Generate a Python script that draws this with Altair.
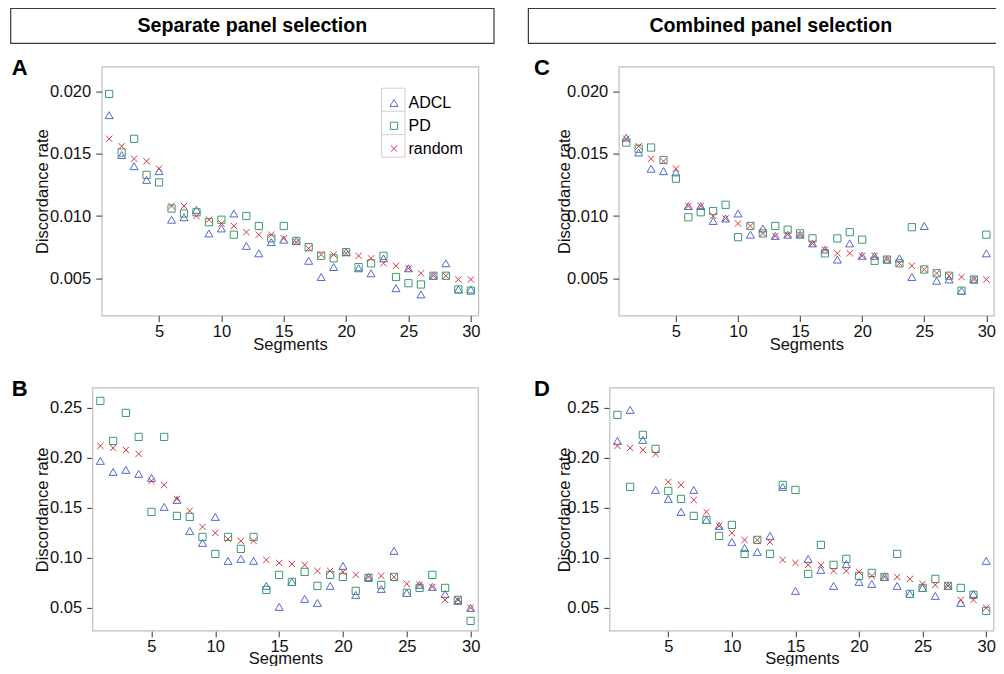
import altair as alt
import pandas as pd

SEGMENTS = list(range(1, 31))
METHODS = ["ADCL", "PD", "random"]
COLORS = ["#5169CF", "#3D9A6F", "#D5373D"]
SHAPES = ["triangle-up", "square", "M-1,-1L1,1M-1,1L1,-1"]
SIZES = [64, 40, 49]

X_TICKS = [5, 10, 15, 20, 25, 30]
Y_TICKS_SMALL = [0.005, 0.010, 0.015, 0.020]
Y_TICKS_LARGE = [0.05, 0.10, 0.15, 0.20, 0.25]

HEADERS = ["Separate panel selection", "Combined panel selection"]
LETTERS = ["A", "B", "C", "D"]

# Panel A (separate, small scale)
A_ADCL = [0.0181, 0.0149, 0.0140, 0.0129, 0.0136, 0.0097, 0.0099, 0.0105, 0.0086, 0.0090,
          0.0102, 0.0076, 0.0070, 0.0079, 0.0081, 0.0080, 0.0064, 0.0051, 0.0059, 0.0071,
          0.0058, 0.0054, 0.0066, 0.0042, 0.0058, 0.0037, 0.0052, 0.0062, 0.0041, 0.0041]
A_PD = [0.0198, 0.0151, 0.0162, 0.0133, 0.0127, 0.0106, 0.0102, 0.0103, 0.0095, 0.0097,
        0.0085, 0.0100, 0.0092, 0.0082, 0.0092, 0.0080, 0.0075, 0.0068, 0.0066, 0.0071,
        0.0059, 0.0062, 0.0068, 0.0051, 0.0046, 0.0045, 0.0052, 0.0052, 0.0041, 0.0040]
A_RANDOM = [0.0162, 0.0156, 0.0146, 0.0144, 0.0138, 0.0108, 0.0108, 0.0100, 0.0097, 0.0094,
            0.0092, 0.0087, 0.0085, 0.0085, 0.0082, 0.0079, 0.0074, 0.0069, 0.0069, 0.0070,
            0.0068, 0.0066, 0.0062, 0.0060, 0.0058, 0.0054, 0.0052, 0.0052, 0.0049, 0.0049]

# Panel B (separate, large scale)
B_ADCL = [0.197, 0.186, 0.188, 0.184, 0.180, 0.151, 0.158, 0.127, 0.115, 0.141,
          0.097, 0.099, 0.097, 0.072, 0.051, 0.076, 0.059, 0.055, 0.072, 0.092,
          0.063, 0.081, 0.069, 0.107, 0.065, 0.073, 0.071, 0.064, 0.057, 0.050]
B_PD = [0.257, 0.217, 0.245, 0.221, 0.146, 0.221, 0.142, 0.141, 0.121, 0.104,
        0.121, 0.109, 0.121, 0.068, 0.083, 0.076, 0.086, 0.072, 0.083, 0.081,
        0.067, 0.080, 0.073, 0.081, 0.065, 0.070, 0.083, 0.070, 0.058, 0.037]
B_RANDOM = [0.212, 0.210, 0.208, 0.204, 0.177, 0.173, 0.159, 0.147, 0.131, 0.125,
            0.119, 0.117, 0.117, 0.098, 0.095, 0.094, 0.093, 0.087, 0.087, 0.086,
            0.083, 0.081, 0.082, 0.081, 0.074, 0.073, 0.071, 0.058, 0.058, 0.050]

# Panel C (combined, small scale)
C_ADCL = [0.0163, 0.0151, 0.0138, 0.0136, 0.0135, 0.0108, 0.0108, 0.0096, 0.0098, 0.0102,
          0.0085, 0.0090, 0.0084, 0.0085, 0.0085, 0.0078, 0.0073, 0.0065, 0.0078, 0.0068,
          0.0068, 0.0065, 0.0066, 0.0051, 0.0092, 0.0048, 0.0049, 0.0040, 0.0049, 0.0070]
C_PD = [0.0159, 0.0154, 0.0155, 0.0145, 0.0130, 0.0099, 0.0103, 0.0104, 0.0109, 0.0083,
        0.0092, 0.0086, 0.0092, 0.0089, 0.0086, 0.0082, 0.0070, 0.0082, 0.0087, 0.0081,
        0.0064, 0.0065, 0.0062, 0.0091, 0.0057, 0.0054, 0.0052, 0.0040, 0.0049, 0.0085]
C_RANDOM = [0.0162, 0.0156, 0.0146, 0.0144, 0.0138, 0.0108, 0.0108, 0.0100, 0.0098, 0.0094,
            0.0092, 0.0086, 0.0084, 0.0085, 0.0085, 0.0078, 0.0073, 0.0070, 0.0070, 0.0068,
            0.0068, 0.0065, 0.0062, 0.0060, 0.0057, 0.0054, 0.0052, 0.0051, 0.0049, 0.0049]

# Panel D (combined, large scale)
D_ADCL = [0.217, 0.248, 0.218, 0.168, 0.159, 0.146, 0.168, 0.138, 0.132, 0.116,
          0.110, 0.106, 0.122, 0.171, 0.067, 0.099, 0.088, 0.072, 0.094, 0.076,
          0.074, 0.081, 0.072, 0.064, 0.070, 0.062, 0.072, 0.055, 0.064, 0.097]
D_PD = [0.243, 0.171, 0.223, 0.209, 0.167, 0.159, 0.142, 0.138, 0.122, 0.133,
        0.104, 0.118, 0.104, 0.173, 0.168, 0.084, 0.113, 0.093, 0.099, 0.082,
        0.085, 0.081, 0.104, 0.064, 0.070, 0.079, 0.072, 0.070, 0.063, 0.047]
D_RANDOM = [0.212, 0.210, 0.208, 0.204, 0.176, 0.173, 0.158, 0.146, 0.132, 0.125,
            0.118, 0.118, 0.116, 0.098, 0.095, 0.093, 0.093, 0.087, 0.087, 0.086,
            0.082, 0.081, 0.081, 0.079, 0.074, 0.073, 0.072, 0.058, 0.058, 0.050]

FONT = "Liberation Sans"
FRAME = "#BEBEBE"


def long_df(adcl, pdv, rnd):
    rows = []
    for name, vals in zip(METHODS, [adcl, pdv, rnd]):
        for s, v in zip(SEGMENTS, vals):
            rows.append({"Segments": s, "rate": v, "method": name})
    return pd.DataFrame(rows)


ONE = pd.DataFrame({"k": [0]})


def panel(df, ydom, yticks, yfmt, w, h, letter, letter_x, title_x, x_title_y, shift,
          anchor_bottom, legend=None):
    """shift: how many px the frame extends left of the column origin."""
    color = alt.Color("method:N", scale=alt.Scale(domain=METHODS, range=COLORS), legend=legend)
    shape = alt.Shape("method:N", scale=alt.Scale(domain=METHODS, range=SHAPES), legend=legend)
    size = alt.Size("method:O", scale=alt.Scale(domain=METHODS, range=SIZES), legend=None)
    xscale = alt.Scale(domain=[0.4, 30.6], nice=False, zero=False)
    if shift:
        xscale = alt.Scale(domain=[0.4, 30.6], nice=False, zero=False, range=[-shift, w])
    yaxis_kw = dict(values=yticks, format=yfmt, title="Discordance rate",
                    labelPadding=5, titleAngle=270, titleX=title_x,
                    titleY=h / 2, titleBaseline="alphabetic",
                    titleAlign="center", labelFlush=False, labelOverlap=False)
    if shift:
        yaxis_kw["offset"] = shift
    pts = alt.Chart(df).mark_point(filled=False, strokeWidth=1, opacity=1).encode(
        x=alt.X("Segments:Q", scale=xscale,
                axis=alt.Axis(values=X_TICKS, title="Segments", labelPadding=2,
                              titleY=x_title_y, titleBaseline="alphabetic",
                              labelFlush=False, labelOverlap=False)),
        y=alt.Y("rate:Q", scale=alt.Scale(domain=ydom, nice=False, zero=False),
                axis=alt.Axis(**yaxis_kw)),
        color=color, shape=shape, size=size,
    )
    letter_df = pd.DataFrame({"label": [letter]})
    txt = alt.Chart(letter_df).mark_text(
        font=FONT, fontSize=22, fontWeight="bold", align="left",
        baseline="alphabetic", color="black"
    ).encode(text="label:N", x=alt.value(letter_x), y=alt.value(8.3))
    anc_top = alt.Chart(ONE).mark_rule(color="white", strokeWidth=1).encode(
        x=alt.value(-60), y=alt.value(-16), y2=alt.value(-15))
    layers = [anc_top]
    if anchor_bottom is not None:
        anc_bot = alt.Chart(ONE).mark_rule(color="white", strokeWidth=1).encode(
            x=alt.value(-60), y=alt.value(anchor_bottom - 1), y2=alt.value(anchor_bottom))
        layers.append(anc_bot)
    if shift:
        frame = alt.Chart(ONE).mark_rect(fillOpacity=0, stroke=FRAME, strokeWidth=1.2).encode(
            x=alt.value(-shift), x2=alt.value(w), y=alt.value(0), y2=alt.value(h))
        layers.append(frame)
    if legend is not None:
        box = alt.Chart(ONE).mark_rect(fillOpacity=0, stroke="#CFCFCF", strokeWidth=1).encode(
            x=alt.value(280), x2=alt.value(303.3), y=alt.value(21.6), y2=alt.value(90.6))
        div1 = alt.Chart(ONE).mark_rule(color="#CFCFCF", strokeWidth=1).encode(
            x=alt.value(280), x2=alt.value(303.3), y=alt.value(44.6))
        div2 = alt.Chart(ONE).mark_rule(color="#CFCFCF", strokeWidth=1).encode(
            x=alt.value(280), x2=alt.value(303.3), y=alt.value(68))
        layers += [box, div1, div2]
    layers += [pts, txt]
    out = alt.layer(*layers).properties(width=w, height=h)
    if shift:
        out = out.properties(view=alt.ViewBackground(stroke="transparent"))
    return out


def header(text, w, x_left, x_right, text_x):
    hdf = pd.DataFrame({"t": [text]})
    box = alt.Chart(hdf).mark_rect(fillOpacity=0, stroke="#3A3A3A", strokeWidth=1.2).encode(
        x=alt.value(x_left), x2=alt.value(x_right), y=alt.value(0), y2=alt.value(35))
    lab = alt.Chart(hdf).mark_text(
        font=FONT, fontSize=19.6, fontWeight="bold", align="center",
        baseline="alphabetic", color="black"
    ).encode(text="t:N", x=alt.value(text_x), y=alt.value(24))
    return alt.layer(box, lab).properties(
        width=w, height=35, view=alt.ViewBackground(stroke="transparent"))


legend_a = alt.Legend(orient="none", legendX=284.3, legendY=28.4, title=None,
                      labelFont=FONT, labelFontSize=16, labelColor="black",
                      symbolSize=64, symbolStrokeWidth=1, rowPadding=6.8,
                      labelOffset=6.5, padding=0, direction="vertical")

W_L = 376.6
W_R = 375.0
H_TOP = 249
H_BOT = 243
ANCHOR_BOTTOM = 298.2
pA = panel(long_df(A_ADCL, A_PD, A_RANDOM), [0.002, 0.022], Y_TICKS_SMALL, ".3f",
           W_L, H_TOP, LETTERS[0], -90, -54.0, 33.6, 0, ANCHOR_BOTTOM, legend=legend_a)
pB = panel(long_df(B_ADCL, B_PD, B_RANDOM), [0.027, 0.27], Y_TICKS_LARGE, ".2f",
           W_L, H_BOT, LETTERS[1], -90, -45.0, 32.6, 9, None)
pC = panel(long_df(C_ADCL, C_PD, C_RANDOM), [0.002, 0.022], Y_TICKS_SMALL, ".3f",
           W_R, H_TOP, LETTERS[2], -84.7, -49.7, 33.6, 0, ANCHOR_BOTTOM)
pD = panel(long_df(D_ADCL, D_PD, D_RANDOM), [0.027, 0.27], Y_TICKS_LARGE, ".2f",
           W_R, H_BOT, LETTERS[3], -84.7, -40.7, 32.6, 9, None)

RES = dict(x="independent", y="independent", color="independent",
           shape="independent", size="independent")

left = alt.concat(header(HEADERS[0], W_L, -91, 392.3, 150.65), pA, pB, columns=1,
                  spacing=3.3, align="none", bounds="full").resolve_scale(**RES).resolve_legend(
    color="independent", shape="independent")
right = alt.concat(header(HEADERS[1], W_R, -90.4, 392.3, 152), pC, pD, columns=1,
                   spacing=3.3, align="none", bounds="full").resolve_scale(**RES).resolve_legend(
    color="independent", shape="independent")

# Fixed-size canvas: 988 x 658 (page 1004 x 674 minus the 8px body margins);
# the column origin (plot-area left of panel A) sits 93.7px in from the left.
chart = alt.concat(left, right, columns=2, spacing=31.1, align="none",
                   bounds="full").resolve_scale(**RES).resolve_legend(
    color="independent", shape="independent").properties(
    autosize=alt.AutoSizeParams(type="none"),
    padding={"left": 93.7, "top": 0.3, "right": 894.3, "bottom": 657.7}
).configure_view(stroke=FRAME, strokeWidth=1.2).configure_axis(
    labelFont=FONT, labelFontSize=16.5, labelColor="#111111",
    titleFont=FONT, titleFontSize=16.5, titleFontWeight="normal", titleColor="#111111",
    tickColor="#333333", tickSize=6, tickWidth=1, grid=False, domain=False
)

chart.save("out.html", embed_options={"renderer": "svg", "actions": False})
